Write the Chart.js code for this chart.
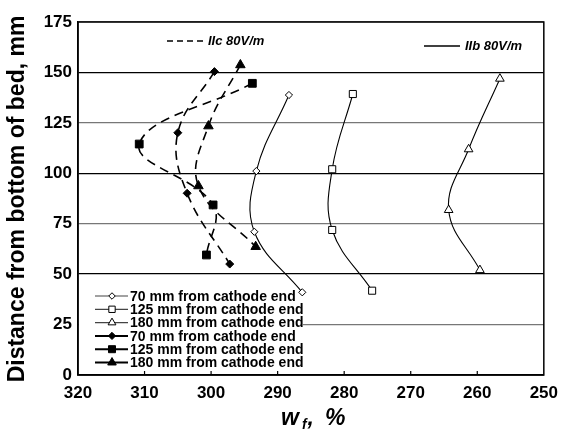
<!DOCTYPE html>
<html>
<head>
<meta charset="utf-8">
<script src="https://cdn.jsdelivr.net/npm/chart.js@4.4.0/dist/chart.umd.min.js"></script>
<style>
  html, body { margin: 0; padding: 0; background: #fff; }
</style>
</head>
<body>
<canvas id="grafico" width="566" height="434"></canvas>
<script>
// valores (wf em %, distância em mm)
// IIb 80V/m (marcadores vazados, linha contínua)
const xAberto70 = [288.3, 293.2, 293.5, 286.3]
const yAberto70 = [138.8, 101.1, 71.0, 41.0]
const xAberto125 = [278.7, 281.8, 281.8, 275.8]
const yAberto125 = [139.3, 102.0, 71.9, 41.8]
const xAberto180 = [256.6, 261.3, 264.3, 259.6]
const yAberto180 = [146.9, 111.9, 81.8, 52.0]
// IIc 80V/m (marcadores cheios, linha tracejada)
const xCheio70 = [299.5, 305.0, 303.6, 297.2]
const yCheio70 = [150.4, 120.1, 90.1, 55.0]
const xCheio125 = [293.8, 310.8, 299.7, 300.7]
const yCheio125 = [144.6, 114.5, 84.3, 59.5]
const xCheio180 = [295.6, 300.4, 301.9, 293.3]
const yCheio180 = [153.7, 123.4, 93.7, 63.6]

const rotulos = ['70 mm from cathode end', '125 mm from cathode end', '180 mm from cathode end',
  '70 mm from cathode end', '125 mm from cathode end', '180 mm from cathode end']
const ticksX = [320, 310, 300, 290, 280, 270, 260, 250]
const ticksY = [0, 25, 50, 75, 100, 125, 150, 175]

const fonte = '"Liberation Sans", Arial, sans-serif'
const pares = (xs, ys) => xs.map((x, i) => ({ x, y: ys[i] }))

// estilo de cada série
const estilos = [
  { estilo: 'rectRot', raio: 3.6, cheio: false },
  { estilo: 'rect', raio: 5, cheio: false },
  { estilo: 'triangle', raio: 5, cheio: false },
  { estilo: 'rectRot', raio: 4, cheio: true },
  { estilo: 'rect', raio: 5.5, cheio: true },
  { estilo: 'triangle', raio: 5.5, cheio: true },
]
const dadosSeries = [
  pares(xAberto70, yAberto70), pares(xAberto125, yAberto125), pares(xAberto180, yAberto180),
  pares(xCheio70, yCheio70), pares(xCheio125, yCheio125), pares(xCheio180, yCheio180),
]

const conjuntos = dadosSeries.map((dados, i) => {
  const e = estilos[i]
  return {
    label: rotulos[i],
    data: dados,
    showLine: true,
    tension: 0.4,
    borderColor: '#000',
    borderWidth: e.cheio ? 1.6 : 1.1,
    borderDash: e.cheio ? [9, 6] : [],
    pointStyle: e.estilo,
    pointRadius: e.raio,
    pointBackgroundColor: e.cheio ? '#000' : '#fff',
    pointBorderColor: '#000',
    pointBorderWidth: 1,
  }
})

// desenha moldura, legenda, anotações e títulos dos eixos
const desenhoExtra = {
  id: 'desenhoExtra',
  afterDraw(chart) {
    const { ctx, chartArea: a, scales } = chart
    ctx.save()
    ctx.strokeStyle = '#000'
    ctx.lineWidth = 1.5
    ctx.strokeRect(a.left, a.top, a.right - a.left, a.bottom - a.top)

    // marcas internas do eixo x
    ctx.lineWidth = 1.2
    ticksX.slice(1, -1).forEach(v => {
      const px = scales.x.getPixelForValue(v)
      ctx.beginPath(); ctx.moveTo(px, a.bottom); ctx.lineTo(px, a.bottom - 4); ctx.stroke()
    })

    // legenda (fundo branco só sobre a linha de grade de 25)
    ctx.fillStyle = '#fff'
    ctx.fillRect(a.left + 1, 303, 224, 66)
    ctx.font = 'bold 14px ' + fonte
    ctx.textBaseline = 'middle'
    ctx.textAlign = 'left'
    rotulos.forEach((r, i) => {
      const e = estilos[i]
      const y = 296 + i * 13.3
      ctx.setLineDash([])
      ctx.strokeStyle = e.cheio ? '#000' : '#444'
      ctx.lineWidth = e.cheio ? 2 : 1.2
      ctx.beginPath(); ctx.moveTo(95, y); ctx.lineTo(128, y); ctx.stroke()
      ctx.fillStyle = e.cheio ? '#000' : '#fff'
      ctx.strokeStyle = '#000'
      ctx.lineWidth = 1
      Chart.helpers.drawPoint(ctx, { pointStyle: e.estilo, radius: e.raio * 0.9, rotation: 0, borderWidth: 1 }, 112, y)
      ctx.fillStyle = '#000'
      ctx.fillText(r, 130, y + 1)
    })

    // anotações IIc e IIb
    ctx.strokeStyle = '#000'
    ctx.lineWidth = 1.3
    ctx.setLineDash([6, 4])
    ctx.beginPath(); ctx.moveTo(167, 41); ctx.lineTo(203, 41); ctx.stroke()
    ctx.setLineDash([])
    ctx.beginPath(); ctx.moveTo(424, 46); ctx.lineTo(460, 46); ctx.stroke()
    ctx.fillStyle = '#000'
    ctx.font = 'italic bold 13px ' + fonte
    ctx.fillText('IIc 80V/m', 208, 41)
    ctx.fillText('IIb 80V/m', 465, 46)

    // título do eixo y
    ctx.save()
    ctx.translate(18, 199)
    ctx.rotate(-Math.PI / 2)
    ctx.textAlign = 'center'
    ctx.font = 'bold 23px ' + fonte
    ctx.fillText('Distance from bottom of bed, mm', 0, 0)
    ctx.restore()

    // título do eixo x: w com índice f
    ctx.textBaseline = 'alphabetic'
    ctx.font = 'italic bold 23px ' + fonte
    ctx.fillText('w', 281, 425)
    let px = 281 + ctx.measureText('w').width + 3
    ctx.font = 'italic bold 14px ' + fonte
    ctx.fillText('f', px, 429)
    px += ctx.measureText('f').width + 1
    ctx.font = 'italic bold 23px ' + fonte
    ctx.fillText(',', px, 425)
    ctx.fillText('%', 325, 425)
    ctx.restore()
  },
}

const grafico = new Chart(document.getElementById('grafico').getContext('2d'), {
  type: 'scatter',
  data: { datasets: conjuntos },
  options: {
    responsive: false,
    animation: false,
    devicePixelRatio: 1,
    layout: { padding: { left: 0, top: 22, right: 16, bottom: 0 } },
    plugins: { legend: { display: false }, tooltip: { enabled: false } },
    scales: {
      x: {
        type: 'linear',
        reverse: true,
        min: 250,
        max: 320,
        afterBuildTicks: s => { s.ticks = ticksX.map(v => ({ value: v })) },
        afterFit: s => { s.height = 59 },
        grid: { display: false, drawTicks: false },
        border: { display: true, color: '#000', width: 1.5 },
        ticks: { color: '#000', padding: 8, maxRotation: 0, font: { family: fonte, size: 17, weight: 'bold' } },
      },
      y: {
        min: 0,
        max: 175,
        afterBuildTicks: s => { s.ticks = ticksY.map(v => ({ value: v })) },
        afterFit: s => { s.width = 78 },
        grid: {
          drawTicks: false,
          color: c => (c.tick.value % 50 === 0 ? '#000' : '#777'),
          lineWidth: 1.3,
        },
        border: { display: true, color: '#000', width: 1.5 },
        ticks: { color: '#000', padding: 6, font: { family: fonte, size: 17, weight: 'bold' } },
      },
    },
  },
  plugins: [desenhoExtra],
})
</script>
</body>
</html>
